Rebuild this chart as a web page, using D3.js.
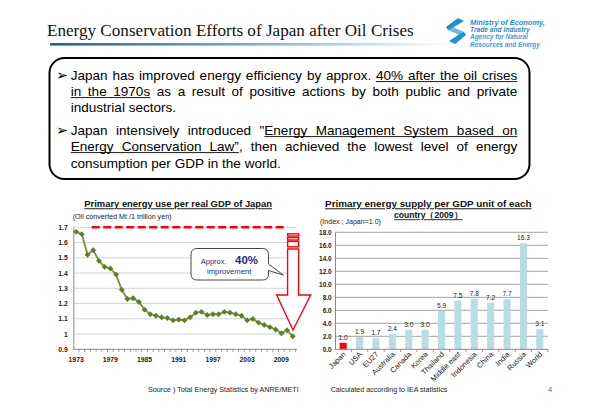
<!DOCTYPE html>
<html><head><meta charset="utf-8">
<script src="https://cdn.jsdelivr.net/npm/d3@7"></script>
<style>body{margin:0;background:#fff}svg{display:block}</style>
</head><body><svg id="c" width="600" height="415"></svg>
<script>
// ---------- data ----------
const years = [1973,1974,1975,1976,1977,1978,1979,1980,1981,1982,1983,1984,1985,1986,1987,1988,1989,1990,1991,1992,1993,1994,1995,1996,1997,1998,1999,2000,2001,2002,2003,2004,2005,2006,2007,2008,2009,2010,2011];
const intensity = [1.67,1.655,1.52,1.55,1.48,1.44,1.43,1.39,1.29,1.23,1.235,1.21,1.16,1.13,1.12,1.11,1.105,1.09,1.095,1.09,1.11,1.14,1.145,1.125,1.13,1.13,1.145,1.14,1.13,1.12,1.09,1.10,1.075,1.06,1.045,1.03,1.005,1.025,0.985];
const yearTicks = [1973,1979,1985,1991,1997,2003,2009];
const leftYTicks = [0.9,1,1.1,1.2,1.3,1.4,1.5,1.6,1.7];
const countries = ["Japan","USA","EU27","Australia","Canada","Korea","Thailand","Middle east","Indonesia","China","India","Russia","World"];
const supply = [1.0,1.9,1.7,2.4,3.0,3.0,5.9,7.5,7.8,7.2,7.7,16.3,3.1];
const rightYTicks = [0,2,4,6,8,10,12,14,16,18];

const SANS = "'Liberation Sans', Arial, Helvetica, sans-serif";
const svg = d3.select("#c");

function fit(sel, w){
  const n = sel.node(); const fs = parseFloat(sel.attr("font-size"));
  const L = n.getComputedTextLength(); if (L>0) sel.attr("font-size", fs*w/L);
  return sel;
}

// ---------- header ----------
const defs = svg.append("defs");
const g1 = defs.append("linearGradient").attr("id","hg").attr("x1","0").attr("x2","1").attr("y1","0").attr("y2","0");
g1.append("stop").attr("offset","0").attr("stop-color","#1a63ad");
g1.append("stop").attr("offset","0.45").attr("stop-color","#6aa6d8");
g1.append("stop").attr("offset","0.85").attr("stop-color","#d3e5f4");
g1.append("stop").attr("offset","1").attr("stop-color","#ffffff");
svg.append("rect").attr("x",50).attr("y",43).attr("width",400).attr("height",2.6).attr("fill","url(#hg)");

fit(svg.append("text").attr("x",47).attr("y",36)
  .attr("font-family","'Liberation Serif','Times New Roman',serif").attr("font-size",17).attr("fill","#111")
  .text("Energy Conservation Efforts of Japan after Oil Crises"), 367);

// logo
svg.append("path").attr("d","M458,18 L464,21 L453,27.5 L464,32 L466,35 L455,44 L449,41 L459,34.5 L448,30 L446,27 Z")
  .attr("fill","#1b8fd6");
svg.append("path").attr("d","M453,27.5 L464,32 L459,34.5 L448,30 Z").attr("fill","#fff").attr("opacity",0.35);
const logoLines = [["Ministry of Economy,","bold"],["Trade and Industry","bold"],["Agency for Natural","bold"],["Resources and Energy","bold"]];
const logoW = [75,60,58,70];
logoLines.forEach((l,i)=>{
  fit(svg.append("text").attr("x",470).attr("y",25+i*7.2).attr("font-family",SANS).attr("font-style","italic")
    .attr("font-weight",l[1]).attr("font-size",7.5).attr("fill", i<2 ? "#1b8fd6" : "#3aa0e0").text(l[0]), logoW[i]);
});

// ---------- text box ----------
svg.append("rect").attr("x",49.5).attr("y",58).attr("width",480).attr("height",121).attr("rx",15)
  .attr("fill","#fff").attr("stroke","#000").attr("stroke-width",2);

const paraLines = [
  {y:80,  j:true,  segs:[["Japan has improved energy efficiency by approx.",0],["40% after the oil crises",1]]},
  {y:96,  j:true,  segs:[["in the 1970s",1],["as a result of positive actions by both public and private",0]]},
  {y:112, j:false, segs:[["industrial sectors.",0]]},
  {y:135, j:true,  segs:[["Japan intensively introduced",0],["\"",0],["Energy Management System based on",1,true]]},
  {y:151, j:true,  segs:[["Energy Conservation Law\u201D",1],[", then achieved the lowest level of energy",0,true]]},
  {y:167.5, j:false, segs:[["consumption per GDP in the world.",0]]}
];
const X0 = 70.7, X1 = 517.3;
const meas = svg.append("text").attr("font-family",SANS).attr("font-size",20).attr("x",-999).attr("y",-999);
meas.text("consumption per GDP in the world.");
const FS = 20*210/meas.node().getComputedTextLength();
meas.attr("font-size",FS);
function mw(t){ meas.text(t); return meas.node().getComputedTextLength(); }
const spaceW = mw("a a") - mw("aa");
const tg = svg.append("g").attr("font-family",SANS).attr("font-size",FS).attr("fill","#000");
paraLines.forEach(line=>{
  const toks = [];
  line.segs.forEach(s=>{
    s[0].split(" ").filter(w=>w.length).forEach((w,k)=>{
      toks.push({t:w,u:s[1],glue:(k===0 && s[2]) || false, w:mw(w)});
    });
  });
  const total = d3.sum(toks,d=>d.w);
  const gaps = toks.filter((d,i)=>i>0 && !d.glue).length;
  const gap = line.j ? (X1-X0-total)/gaps : spaceW;
  let x = X0; let runStart = null; let prevEnd = null;
  toks.forEach((d,i)=>{
    if (i>0 && !d.glue) x += gap;
    tg.append("text").attr("x",x).attr("y",line.y).text(d.t);
    if (d.u){ if (runStart===null) runStart = x; }
    else if (runStart!==null){ tg.append("line").attr("x1",runStart).attr("x2",prevEnd).attr("y1",line.y+1.6).attr("y2",line.y+1.6).attr("stroke","#000").attr("stroke-width",0.9); runStart=null; }
    x += d.w; prevEnd = x;
  });
  if (runStart!==null) tg.append("line").attr("x1",runStart).attr("x2",prevEnd).attr("y1",line.y+1.6).attr("y2",line.y+1.6).attr("stroke","#000").attr("stroke-width",0.9);
});
[80,135].forEach(y=>{
  svg.append("text").attr("x",56).attr("y",y).attr("font-family","'DejaVu Sans',sans-serif").attr("font-size",FS*1.05).text("\u27A2");
});
meas.remove();

// ---------- left chart ----------
const xL = d3.scaleBand().domain(years).range([73.3, 295.6]);
const cx = d => xL(d) + xL.bandwidth()/2;
const yL = d3.scaleLinear().domain([0.9,1.7]).range([349.3,227.3]);

fit(svg.append("text").attr("x",84.3).attr("y",207.3).attr("font-family",SANS).attr("font-weight","bold")
  .attr("font-size",9.5).attr("text-decoration","underline").attr("fill","#111")
  .text("Primary energy use per real GDP of Japan"), 188);
fit(svg.append("text").attr("x",72.7).attr("y",219).attr("font-family",SANS).attr("font-size",6.5).attr("fill","#222")
  .text("(Oil converted Mt /1 trillion yen)"), 99);

svg.append("g").selectAll("line").data(leftYTicks.slice(1)).join("line")
  .attr("x1",73.3).attr("x2",297).attr("y1",d=>yL(d)).attr("y2",d=>yL(d))
  .attr("stroke","#d4d4d4").attr("stroke-width",1);

const yAxL = svg.append("g").attr("transform","translate(73.3,0)")
  .call(d3.axisLeft(yL).tickValues(leftYTicks).tickSize(0).tickPadding(5.6).tickFormat(d3.format("")));
yAxL.select(".domain").attr("stroke","#8c8c8c");
yAxL.selectAll("text").attr("font-family",SANS).attr("font-weight","bold").attr("font-size",6.8).attr("fill","#222");

const xAxL = svg.append("g").attr("transform","translate(0,349.3)");
xAxL.append("line").attr("x1",73.3).attr("x2",297).attr("stroke","#8c8c8c");
xAxL.selectAll(".tk").data(years).join("line").attr("class","tk")
  .attr("x1",d=>xL(d)+xL.bandwidth()).attr("x2",d=>xL(d)+xL.bandwidth()).attr("y1",0).attr("y2",2.5).attr("stroke","#8c8c8c");
xAxL.selectAll("text").data(yearTicks).join("text")
  .attr("x",d=>cx(d)).attr("y",12.3).attr("text-anchor","middle")
  .attr("font-family",SANS).attr("font-weight","bold").attr("font-size",6.8).attr("fill","#222").text(d=>d);

// red dashed reference line
svg.append("line").attr("x1",91.7).attr("x2",287.3).attr("y1",yL(1.7)).attr("y2",yL(1.7))
  .attr("stroke","#f00").attr("stroke-width",2.4).attr("stroke-dasharray","8,3.5");

// arrow
const ag = svg.append("g").attr("fill","#fff").attr("stroke","#f00").attr("stroke-width",1.4);
[[233.8,2.2],[237.6,2.4],[241.4,5.4]].forEach(r=>{
  ag.append("rect").attr("x",287.6).attr("y",r[0]).attr("width",11).attr("height",r[1]);
});
ag.append("path").attr("d","M287.6,249 H298.6 V295 H310.7 L293,330 L276.7,295 H287.6 Z");

// callout
svg.append("path").attr("d","M197,248.5 H262.5 Q268.5,248.5 268.5,254.5 V264 L283.3,275 L268.5,270.5 V274 Q268.5,280 262.5,280 H197 Q191,280 191,274 V254.5 Q191,248.5 197,248.5 Z")
  .attr("fill","#fff").attr("stroke","#333").attr("stroke-width",0.9);
fit(svg.append("text").attr("x",200.7).attr("y",263.5).attr("font-family",SANS).attr("font-size",7).attr("fill","#1f2d8a").text("Approx."), 26);
fit(svg.append("text").attr("x",235).attr("y",264.3).attr("font-family",SANS).attr("font-weight","bold").attr("font-size",11).attr("fill","#1f2d8a").text("40%"), 23);
fit(svg.append("text").attr("x",207).attr("y",273.5).attr("font-family",SANS).attr("font-size",7).attr("fill","#1f2d8a").text("improvement"), 44.5);

// line + markers
svg.append("path").datum(intensity)
  .attr("d", d3.line().x((d,i)=>cx(years[i])).y(d=>yL(d)))
  .attr("fill","none").attr("stroke","#77933c").attr("stroke-width",1.8);
svg.append("g").selectAll("path").data(intensity).join("path")
  .attr("d", d3.symbol(d3.symbolSquare, 17))
  .attr("transform",(d,i)=>`translate(${cx(years[i])},${yL(d)}) rotate(45)`)
  .attr("fill","#5f7f22");

// ---------- right chart ----------
const xR = d3.scaleBand().domain(countries).range([335,548]).paddingInner(0.57).paddingOuter(0.285);
const yR = d3.scaleLinear().domain([0,18]).range([349.3,232.3]);

fit(svg.append("text").attr("x",428.3).attr("y",207.3).attr("text-anchor","middle").attr("font-family",SANS).attr("font-weight","bold")
  .attr("font-size",9.5).attr("text-decoration","underline").attr("fill","#111")
  .text("Primary energy supply per GDP unit of each"), 206.7);
fit(svg.append("text").attr("x",428.3).attr("y",218.3).attr("text-anchor","middle").attr("font-family",SANS).attr("font-weight","bold")
  .attr("font-size",9.5).attr("text-decoration","underline").attr("fill","#111")
  .text("country\uFF082009\uFF09"), 68.7);
fit(svg.append("text").attr("x",320).attr("y",223.5).attr("font-family",SANS).attr("font-size",6.5).attr("fill","#222")
  .text("(Index ; Japan=1.0)"), 61);

svg.append("g").selectAll("line").data(rightYTicks.slice(1)).join("line")
  .attr("x1",335).attr("x2",548).attr("y1",d=>yR(d)).attr("y2",d=>yR(d))
  .attr("stroke","#a3a3a3").attr("stroke-width",1);

const yAxR = svg.append("g").attr("transform","translate(335,0)")
  .call(d3.axisLeft(yR).tickValues(rightYTicks).tickSize(0).tickPadding(3.3).tickFormat(d3.format(".1f")));
yAxR.select(".domain").attr("stroke","#8c8c8c");
yAxR.selectAll("text").attr("font-family",SANS).attr("font-weight","bold").attr("font-size",6.5).attr("fill","#222");

svg.append("g").selectAll("rect").data(supply).join("rect")
  .attr("x",(d,i)=>xR(countries[i])).attr("width",xR.bandwidth())
  .attr("y",d=>yR(d)).attr("height",d=>yR(0)-yR(d))
  .attr("fill",(d,i)=>countries[i]==="Japan"?"#ff0000":"#b7dde6");

svg.append("g").selectAll("text").data(supply).join("text")
  .attr("x",(d,i)=>xR(countries[i])+xR.bandwidth()/2).attr("y",d=>yR(d)-3)
  .attr("text-anchor","middle").attr("font-family",SANS).attr("font-size",6.6).attr("fill","#222")
  .text(d=>d3.format(".1f")(d));

const xAxR = svg.append("g").attr("transform","translate(0,349.3)");
xAxR.append("line").attr("x1",335).attr("x2",548).attr("stroke","#8c8c8c");
const step = xR.step();
xAxR.selectAll(".tk").data(countries).join("line").attr("class","tk")
  .attr("x1",d=>xR(d)+xR.bandwidth()/2+step/2).attr("x2",d=>xR(d)+xR.bandwidth()/2+step/2)
  .attr("y1",0).attr("y2",2.5).attr("stroke","#8c8c8c");
xAxR.selectAll("text").data(countries).join("text")
  .attr("text-anchor","end")
  .attr("transform",d=>`translate(${xR(d)+xR.bandwidth()/2+3},5.5) rotate(-45)`)
  .attr("font-family",SANS).attr("font-size",7.5).attr("fill","#222").text(d=>d);

// ---------- footer ----------
fit(svg.append("text").attr("x",148).attr("y",391.5).attr("font-family",SANS).attr("font-size",7.5).attr("fill","#222")
  .text("Source ) Total Energy Statistics by ANRE/METI"), 151);
fit(svg.append("text").attr("x",330.7).attr("y",391.5).attr("font-family",SANS).attr("font-size",7.5).attr("fill","#222")
  .text("Calculated according to IEA statistics"), 116.6);
svg.append("text").attr("x",548).attr("y",391.5).attr("font-family",SANS).attr("font-size",7.5).attr("fill","#666").text("4");
</script></body></html>
